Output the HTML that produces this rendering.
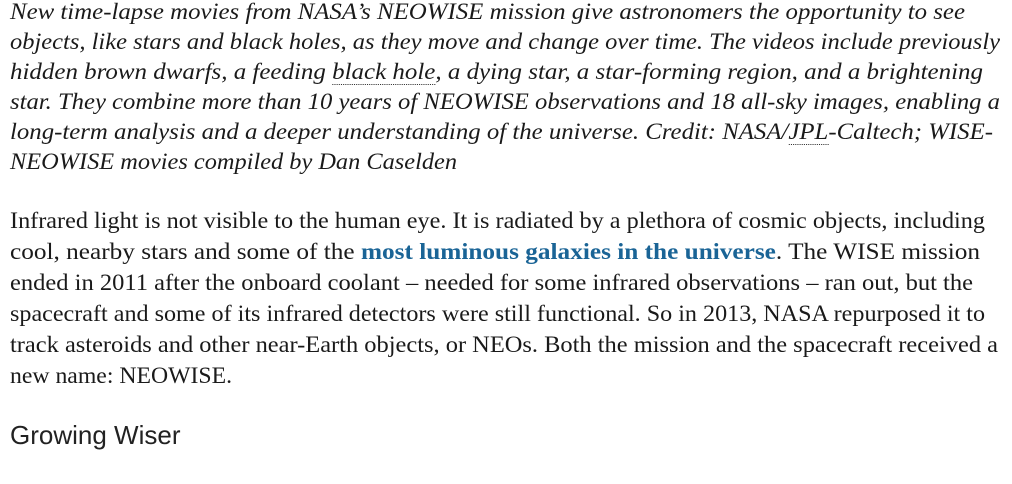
<!DOCTYPE html>
<html><head><meta charset="utf-8">
<style>
body{margin:0;width:1012px;height:484px;background:#fff;overflow:hidden;color:#1a1a1a}
.ln{position:absolute;left:10px;white-space:nowrap;transform-origin:0 0;font-family:"Liberation Serif",serif;font-size:23px;line-height:30px}
.it{font-style:italic}
.dot{border-bottom:1px dotted #333}
.lk{color:#1a6496;font-weight:bold}
h3{position:absolute;left:10px;top:420px;margin:0;font-family:"Liberation Sans",sans-serif;font-weight:normal;font-size:26px;line-height:30px;color:#222}
</style></head><body>
<div>
<div class="ln it" data-w="955" style="top:-3px">New time-lapse movies from NASA’s NEOWISE mission give astronomers the opportunity to see</div>
<div class="ln it" data-w="990" style="top:27px">objects, like stars and black holes, as they move and change over time. The videos include previously</div>
<div class="ln it" data-w="973" style="top:57px">hidden brown dwarfs, a feeding <span class="dot">black hole</span>, a dying star, a star-forming region, and a brightening</div>
<div class="ln it" data-w="990" style="top:87px">star. They combine more than 10 years of NEOWISE observations and 18 all-sky images, enabling a</div>
<div class="ln it" data-w="983" style="top:117px">long-term analysis and a deeper understanding of the universe. Credit: NASA/<span class="dot">JPL</span>-Caltech; WISE-</div>
<div class="ln it" data-w="447" style="top:147px">NEOWISE movies compiled by Dan Caselden</div>
</div>
<div>
<div class="ln" data-w="975" style="top:206px">Infrared light is not visible to the human eye. It is radiated by a plethora of cosmic objects, including</div>
<div class="ln" data-w="970" style="top:237px">cool, nearby stars and some of the <span class="lk">most luminous galaxies in the universe</span>. The WISE mission</div>
<div class="ln" data-w="963" style="top:268px">ended in 2011 after the onboard coolant – needed for some infrared observations – ran out, but the</div>
<div class="ln" data-w="975" style="top:299px">spacecraft and some of its infrared detectors were still functional. So in 2013, NASA repurposed it to</div>
<div class="ln" data-w="988" style="top:330px">track asteroids and other near-Earth objects, or NEOs. Both the mission and the spacecraft received a</div>
<div class="ln" data-w="222" style="top:361px">new name: NEOWISE.</div>
</div>
<h3>Growing Wiser</h3>
<script>
document.querySelectorAll('.ln').forEach(function(e){
  var w=e.getBoundingClientRect().width, t=+e.dataset.w;
  e.style.transform='scaleX('+(t/w)+')';
});
</script>
</body></html>
